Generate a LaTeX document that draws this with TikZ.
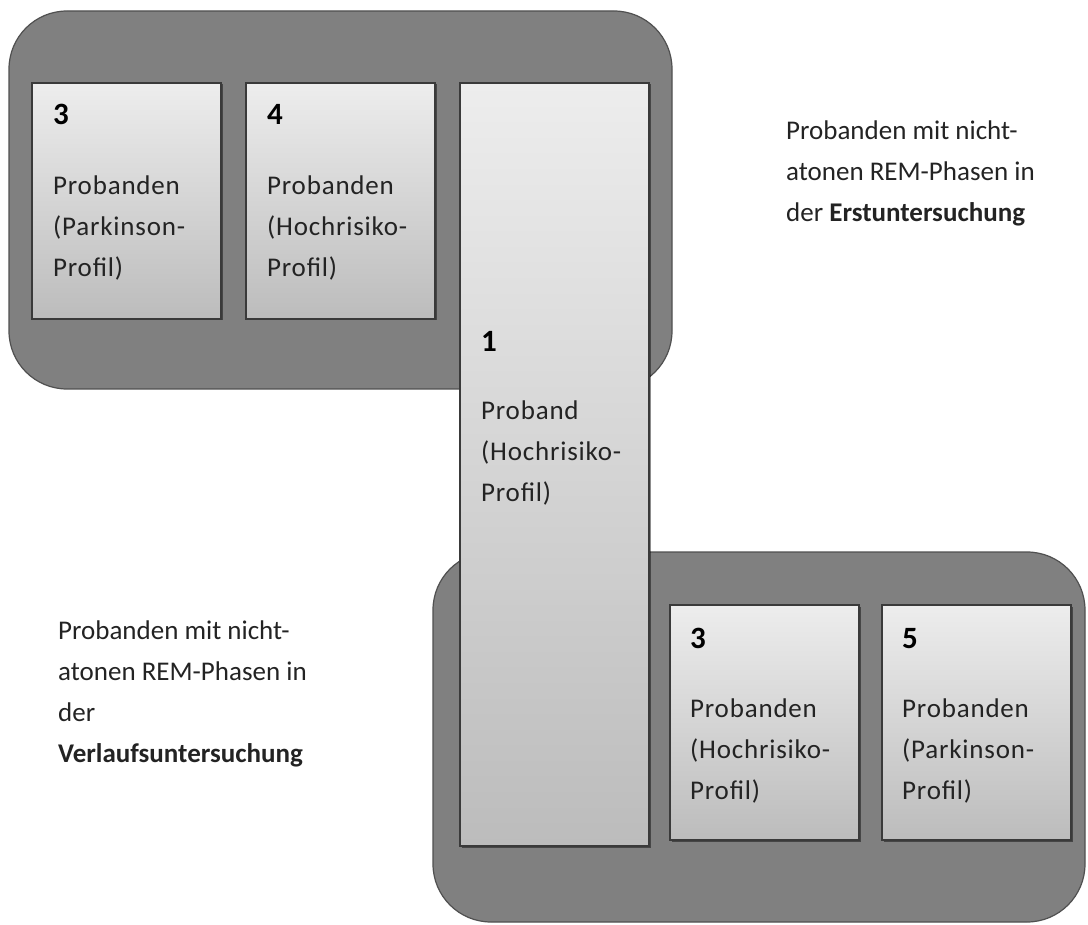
\documentclass[tikz,border=0pt]{standalone}
\usepackage{fontspec}
\setmainfont{Carlito}
\usetikzlibrary{shadows}
\definecolor{contfill}{RGB}{128,128,128}
\definecolor{contline}{RGB}{80,80,80}
\definecolor{boxtop}{RGB}{237,237,237}
\definecolor{boxbot}{RGB}{188,188,188}
\definecolor{boxline}{RGB}{58,58,58}
\definecolor{txt}{RGB}{35,35,35}
\newcommand{\mylines}[1]{\begin{tabular}[t]{@{}l@{}}#1\end{tabular}}
\begin{document}
\begin{tikzpicture}[x=1pt,y=-1pt,
  container/.style={draw=contline, line width=1.2pt, fill=contfill, rounded corners=58pt, anchor=north west, inner sep=0pt, outer sep=0pt},
  card/.style={draw=boxline, line width=1.5pt, top color=boxtop, bottom color=boxbot, anchor=north west, inner sep=0pt, outer sep=0pt, minimum width=189pt,
    drop shadow={shadow xshift=1.5pt, shadow yshift=-1.5pt, opacity=0.45, fill=black}},
  numlabel/.style={anchor=base west, inner sep=0pt, font=\fontsize{31}{41}\selectfont\bfseries, text=black},
  cardtext/.style={anchor=base west, inner sep=0pt, font=\fontsize{27}{41}\selectfont\addfontfeature{LetterSpace=3}, text=txt},
  freetext/.style={anchor=base west, inner sep=0pt, font=\fontsize{27}{41}\selectfont, text=txt}]
\useasboundingbox (0,0) rectangle (1088,925);
% containers
\node[container, minimum width=663pt, minimum height=378pt] (topgroup) at (9,11) {};
\node[container, minimum width=652pt, minimum height=370pt] (botgroup) at (433,552) {};
% cards
\node[card, minimum height=236pt] (cardA) at (32,83) {};
\node[card, minimum height=236pt] (cardB) at (246,83) {};
\node[card, minimum height=235pt] (cardC) at (670,605) {};
\node[card, minimum height=235pt] (cardD) at (882,605) {};
\node[card, minimum height=763pt] (cardM) at (460,83) {};
% card texts
\node[numlabel] (numA) at (53,125) {3};
\node[cardtext] (txtA) at (53,195) {\mylines{Probanden\\(Parkinson-\\Profil)}};
\node[numlabel] (numB) at (267,125) {4};
\node[cardtext] (txtB) at (267,195) {\mylines{Probanden\\(Hochrisiko-\\Profil)}};
\node[numlabel] (numM) at (481,352) {1};
\node[cardtext] (txtM) at (481,420) {\mylines{Proband\\(Hochrisiko-\\Profil)}};
\node[numlabel] (numC) at (690,648) {3};
\node[cardtext] (txtC) at (690,717) {\mylines{Probanden\\(Hochrisiko-\\Profil)}};
\node[numlabel] (numD) at (902,648) {5};
\node[cardtext] (txtD) at (902,717) {\mylines{Probanden\\(Parkinson-\\Profil)}};
% free texts
\node[freetext] (erst) at (786,140) {\mylines{Probanden mit nicht-\\atonen REM-Phasen in\\der \textbf{Erstuntersuchung}}};
\node[freetext] (verl) at (58,639) {\mylines{Probanden mit nicht-\\atonen REM-Phasen in\\der\\\textbf{Verlaufsuntersuchung}}};
\end{tikzpicture}
\end{document}
